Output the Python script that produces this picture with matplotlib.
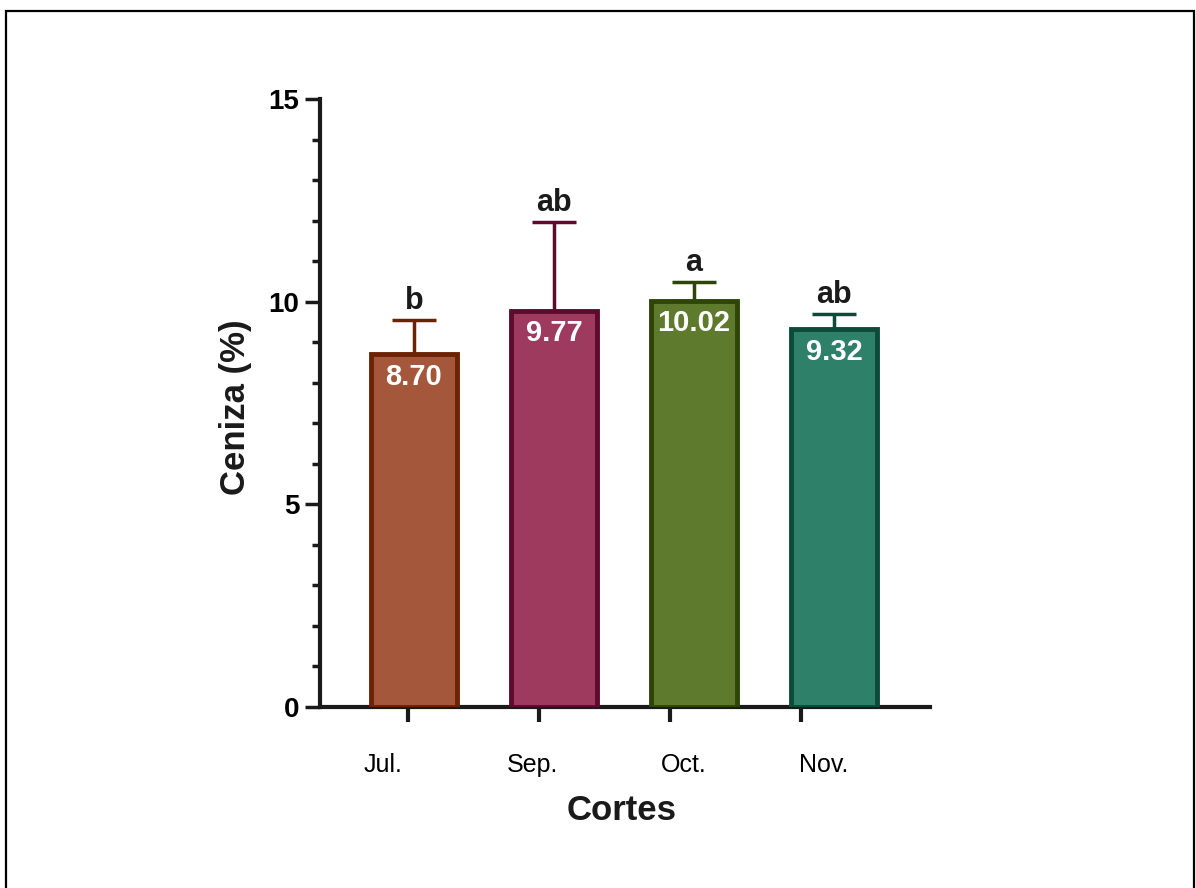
import matplotlib
matplotlib.use("Agg")
import matplotlib.pyplot as plt
from matplotlib.patches import Rectangle
from matplotlib.ticker import MultipleLocator

plt.rcParams['font.family'] = ['Liberation Sans', 'DejaVu Sans']

# data
months = ['Jul.', 'Sep.', 'Oct.', 'Nov.']
ash = [8.70, 9.77, 10.02, 9.32]
sd = [0.85, 2.20, 0.47, 0.38]
letters = ['b', 'ab', 'a', 'ab']
fills = ['#A5573C', '#9E3A5E', '#5E7A2D', '#2E8068']
edges = ['#6B2205', '#5C0A2E', '#2E4508', '#0C4A3A']

fig = plt.figure(figsize=(11.96, 8.88), dpi=100)
ax = fig.add_axes([320 / 1196, 1 - 707 / 888, 610 / 1196, 608 / 888])

x = list(range(len(months)))
ax.bar(x, ash, width=0.614, color=fills, edgecolor=edges, linewidth=3.5, zorder=3)
for i in x:
    ax.errorbar(i, ash[i], yerr=[[0], [sd[i]]], fmt='none', ecolor=edges[i],
                elinewidth=2.5, capsize=16, capthick=2.5, zorder=2)
    ax.annotate(letters[i], (i, ash[i] + sd[i]), xytext=(0, 3), textcoords='offset points',
                ha='center', va='bottom', fontsize=22, fontweight='bold', color='#1a1a1a')
    ax.annotate(f'{ash[i]:.2f}', (i, ash[i]), xytext=(0, -6), textcoords='offset points',
                ha='center', va='top', fontsize=21, fontweight='bold', color='white', zorder=4)

ax.set_xlim(-0.671, 3.686)
ax.set_ylim(0, 15)

for s in ['top', 'right']:
    ax.spines[s].set_visible(False)
for s in ['left', 'bottom']:
    ax.spines[s].set_linewidth(3)
    ax.spines[s].set_color('#1a1a1a')

ax.yaxis.set_major_locator(MultipleLocator(5))
ax.yaxis.set_minor_locator(MultipleLocator(1))
ax.tick_params(axis='y', which='major', length=11, width=2.5, labelsize=20, pad=4, color='#1a1a1a')
ax.tick_params(axis='y', which='minor', length=6, width=2.5, color='#1a1a1a')
for lab in ax.get_yticklabels():
    lab.set_fontweight('bold')

# tick marks sit slightly off the bars, labels placed separately
tick_pos = [-0.043, 0.893, 1.829, 2.764]
label_pos = [-0.22, 0.85, 1.93, 2.93]
ax.set_xticks(tick_pos)
ax.set_xticklabels([])
ax.tick_params(axis='x', which='major', length=11, width=3, color='#1a1a1a')
for p, m in zip(label_pos, months):
    ax.text(p, -1.43, m, ha='center', va='center', fontsize=18)

fig.text(235 / 1196, 1 - 407 / 888, 'Ceniza (%)', rotation=90, ha='center', va='center',
         fontsize=25, fontweight='bold', color='#1a1a1a')
fig.text(622 / 1196, 1 - 810 / 888, 'Cortes', ha='center', va='center',
         fontsize=25, fontweight='bold', color='#1a1a1a')

# outer frame
fig.patches.append(Rectangle((6 / 1196, -0.05), (1194 - 6) / 1196, 1.05 - 11 / 888,
                             transform=fig.transFigure, fill=False, edgecolor='black', linewidth=1.6))

fig.savefig('out.png', dpi=100)
